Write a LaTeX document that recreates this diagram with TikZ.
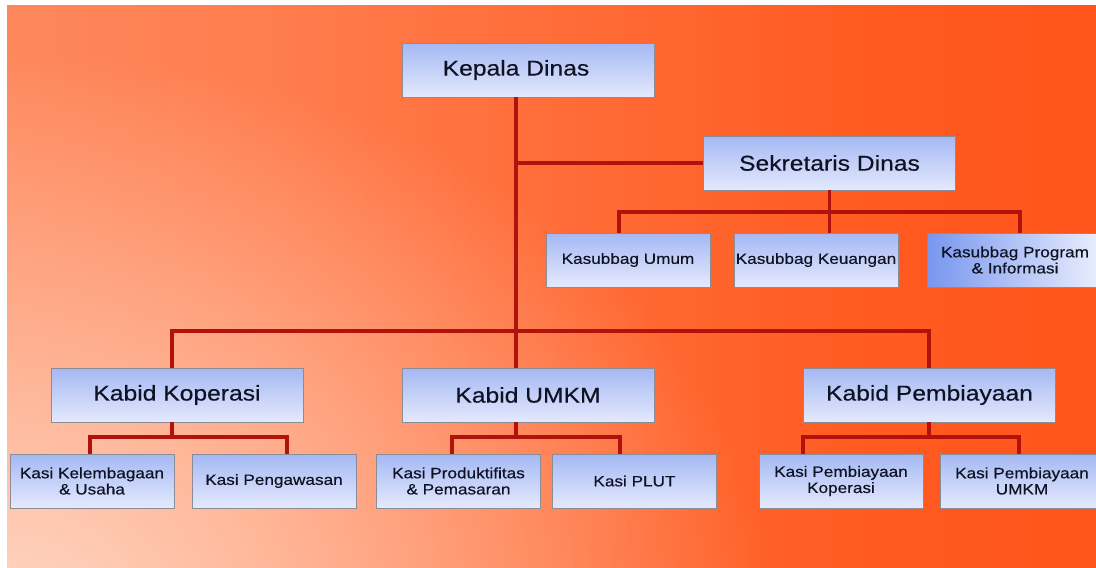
\documentclass[tikz,border=0pt]{standalone}
\usepackage{fontspec}
\setmainfont{Liberation Sans}[FakeStretch=1.15, FakeBold=0.35]
\usetikzlibrary{positioning, fadings}

\definecolor{bgone}{RGB}{251,158,122}
\definecolor{bgtwo}{RGB}{255,125,78}
\definecolor{bgthree}{RGB}{255,90,32}
\definecolor{bgfour}{RGB}{255,72,14}
\definecolor{bgpeach}{RGB}{255,214,194}
\definecolor{linkred}{RGB}{178,18,12}
\definecolor{boxtop}{RGB}{164,184,244}
\definecolor{boxbot}{RGB}{228,233,252}
\definecolor{boxline}{RGB}{140,140,150}
\definecolor{progleft}{RGB}{120,150,238}
\definecolor{progright}{RGB}{236,240,253}
\definecolor{ink}{RGB}{14,18,34}

\pgfdeclarehorizontalshading{orangebg}{100bp}{color(0bp)=(bgone); color(37bp)=(bgtwo); color(65bp)=(bgthree); color(100bp)=(bgfour)}
\tikzfading[name=glowfade, inner color=transparent!0, outer color=transparent!100]

\begin{document}
\begin{tikzpicture}[
    x=0.02cm, y=-0.02cm,
    head/.style ={rectangle, draw=boxline, line width=0.5pt, top color=boxtop, bottom color=boxbot, minimum width=5.04cm, minimum height=1.08cm, inner sep=1pt, text=ink, font=\fontsize{12.2}{13.5}\selectfont},
    sub/.style  ={head, minimum width=3.28cm, align=center, font=\fontsize{8.5}{9.2}\selectfont},
    link/.style ={draw=linkred, line width=2.1pt},
    ]

    \useasboundingbox (0,0) rectangle (1096,568);
    \clip (0,0) rectangle (1096,568);

    % --- Background ---
    \fill[shading=orangebg] (7,5) rectangle (1096,568);
    \begin{scope}
        \clip (7,5) rectangle (1096,568);
        \fill[bgpeach, path fading=glowfade] (7,610) ellipse [x radius=760, y radius=560];
    \end{scope}

    % --- Top level ---
    \node[head] (kepala) at (528,70) {Kepala Dinas\hspace*{0.48cm}};
    \node[head] (sekre) at (829.5,163) {Sekretaris Dinas};

    % Kasubbag row
    \node[sub] (umum) at (628,260) {Kasubbag Umum};
    \node[sub] (keuangan) at (816,260) {Kasubbag Keuangan};
    \node[sub, minimum width=3.52cm, left color=progleft, right color=progright] (program) at (1015,260) {Kasubbag Program\\ \& Informasi};

    % --- Kabid row ---
    \node[head] (kabkop) at (177,395) {Kabid Koperasi};
    \node[head] (kabumkm) at (528,395) {Kabid UMKM};
    \node[head] (kabpem) at (929.5,395) {Kabid Pembiayaan};

    % --- Kasi row ---
    \node[sub] (kasikel) at (92,481) {Kasi Kelembagaan\\ \& Usaha};
    \node[sub] (kasipeng) at (274,481) {Kasi Pengawasan};
    \node[sub] (kasiprod) at (458.5,481) {Kasi Produktifitas\\ \& Pemasaran};
    \node[sub] (kasiplut) at (634.5,481) {Kasi PLUT};
    \node[sub] (kasipkop) at (841,481) {Kasi Pembiayaan\\ Koperasi};
    \node[sub] (kasipumkm) at (1022,481) {Kasi Pembiayaan\\ UMKM};

    % --- Junctions ---
    \coordinate (bus) at (516,331);
    \coordinate (dumum) at (619,212);
    \coordinate (dprog) at (1020,212);
    \coordinate (jkop) at (172,437);
    \coordinate (dkel) at (90,437);
    \coordinate (dpeng) at (287,437);
    \coordinate (jumkm) at (516,437);
    \coordinate (dprod) at (452,437);
    \coordinate (dplut) at (620,437);
    \coordinate (jpem) at (929,437);
    \coordinate (dpkop) at (803,437);
    \coordinate (dpumkm) at (1019,437);

    % --- Connections ---
    \draw[link] (kepala.south -| bus) -- (kabumkm.north -| bus);
    \draw[link] (sekre.west) -- (sekre.west -| bus);
    \draw[link] (kabkop.north -| jkop) |- (bus) -| (kabpem.north -| jpem);

    \draw[link] (sekre.south) -- (keuangan.north -| sekre.south);
    \draw[link] (umum.north -| dumum) -- (dumum) -- (dprog) -- (program.north -| dprog);

    \foreach \kabid/\j/\l/\r/\kl/\kr in {kabkop/jkop/dkel/dpeng/kasikel/kasipeng,
        kabumkm/jumkm/dprod/dplut/kasiprod/kasiplut,
        kabpem/jpem/dpkop/dpumkm/kasipkop/kasipumkm}{
        \draw[link] (\kabid.south -| \j) -- (\j);
        \draw[link] (\kl.north -| \l) -- (\l) -- (\r) -- (\kr.north -| \r);
    }

\end{tikzpicture}
\end{document}
